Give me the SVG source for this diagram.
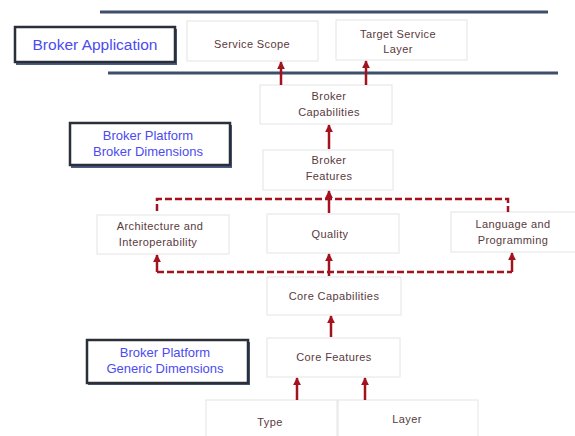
<svg xmlns="http://www.w3.org/2000/svg" width="575" height="436" viewBox="0 0 575 436">
<defs>
<marker id="ah" viewBox="0 0 10 10" refX="9" refY="5" markerWidth="3.2" markerHeight="3.2" orient="auto" markerUnits="strokeWidth">
<path d="M0,0 L10,5 L0,10 z" fill="#a3121f"/>
</marker>
</defs>
<style>
.box{fill:#fff;stroke:#e4e4e4;stroke-width:1}
.lbl{fill:#fff;stroke:#2b2f38;stroke-width:2.5}
.shd{fill:#4a5d86}
.t{font-family:"Liberation Sans",Arial,sans-serif;font-size:11px;fill:#5a3a40;text-anchor:middle;letter-spacing:0.4px}
.b{font-family:"Liberation Sans",Arial,sans-serif;font-size:13px;fill:#4b4bf0;text-anchor:middle}
.arr{stroke:#a3121f;stroke-width:2.5;fill:none;marker-end:url(#ah)}
.dash{stroke:#a3121f;stroke-width:2.5;fill:none;stroke-dasharray:7,3}
.bar{stroke:#3e4f6c;stroke-width:3;fill:none}
</style>
<rect width="575" height="436" fill="#fff"/>
<g id="bars">
<line class="bar" x1="100" y1="12" x2="548" y2="12"/>
<line class="bar" x1="108" y1="73" x2="558" y2="73"/>
</g>
<g id="label-app">
<rect class="shd" x="16" y="29" width="161" height="36"/>
<rect class="lbl" x="15" y="27" width="160" height="35"/>
<text class="b" x="95" y="50" style="font-size:15.5px">Broker Application</text>
</g>
<g id="label-dim">
<rect class="shd" x="71" y="125" width="161" height="43"/>
<rect class="lbl" x="70" y="123" width="160" height="42"/>
<text class="b" x="148" y="140">Broker Platform</text>
<text class="b" x="148" y="156">Broker Dimensions</text>
</g>
<g id="label-gen">
<rect class="shd" x="88" y="342" width="162" height="43"/>
<rect class="lbl" x="87" y="340" width="161" height="43"/>
<text class="b" x="165" y="357">Broker Platform</text>
<text class="b" x="165" y="373">Generic Dimensions</text>
</g>
<g id="service-scope">
<rect class="box" x="187" y="21" width="131" height="40"/>
<text class="t" x="252" y="48">Service Scope</text>
</g>
<g id="target-service-layer">
<rect class="box" x="336" y="20" width="131" height="40"/>
<text class="t" x="398" y="38">Target Service</text>
<text class="t" x="398" y="53">Layer</text>
</g>
<g id="broker-capabilities">
<rect class="box" x="260" y="85" width="132" height="39"/>
<text class="t" x="329" y="100">Broker</text>
<text class="t" x="329" y="116">Capabilities</text>
</g>
<g id="broker-features">
<rect class="box" x="263" y="150" width="130" height="40"/>
<text class="t" x="329" y="164">Broker</text>
<text class="t" x="329" y="180">Features</text>
</g>
<g id="architecture">
<rect class="box" x="97" y="215" width="132" height="39"/>
<text class="t" x="160" y="230">Architecture and</text>
<text class="t" x="158" y="246">Interoperability</text>
</g>
<g id="quality">
<rect class="box" x="267" y="214" width="132" height="39"/>
<text class="t" x="330" y="238">Quality</text>
</g>
<g id="language">
<rect class="box" x="451" y="212" width="130" height="40"/>
<text class="t" x="513" y="228">Language and</text>
<text class="t" x="513" y="244">Programming</text>
</g>
<g id="core-capabilities">
<rect class="box" x="267" y="277" width="134" height="38"/>
<text class="t" x="334" y="300">Core Capabilities</text>
</g>
<g id="core-features">
<rect class="box" x="267" y="338" width="133" height="39"/>
<text class="t" x="334" y="361">Core Features</text>
</g>
<g id="type">
<rect class="box" x="206" y="400" width="131" height="40"/>
<text class="t" x="270" y="426">Type</text>
</g>
<g id="layer">
<rect class="box" x="338" y="400" width="140" height="40"/>
<text class="t" x="407" y="423">Layer</text>
</g>
<g id="connectors">
<line class="arr" x1="281" y1="85" x2="281" y2="62"/>
<line class="arr" x1="366" y1="85" x2="366" y2="61"/>
<line class="arr" x1="329" y1="149" x2="329" y2="125"/>
<path class="dash" d="M157,211 V199 H508 V212"/>
<line class="arr" x1="329" y1="213" x2="329" y2="191"/>
<path class="dash" d="M157,272 H512"/>
<line class="arr" x1="157" y1="272" x2="157" y2="255"/>
<line class="arr" x1="512" y1="272" x2="512" y2="253"/>
<line class="arr" x1="329" y1="276" x2="329" y2="254"/>
<line class="arr" x1="331" y1="337" x2="331" y2="316"/>
<line class="arr" x1="297" y1="400" x2="297" y2="378"/>
<line class="arr" x1="365" y1="400" x2="365" y2="378"/>
</g>
</svg>
